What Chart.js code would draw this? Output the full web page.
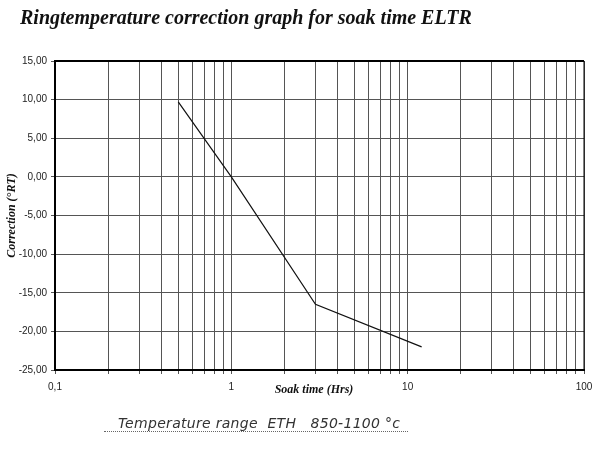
<!DOCTYPE html>
<html>
<head>
<meta charset="utf-8">
<script src="https://cdn.jsdelivr.net/npm/chart.js@4"></script>
<style>
  body { margin: 0; background: #fff; }
  #wrap { position: relative; width: 600px; height: 450px; }
  #note {
    position: absolute; left: 104px; top: 415px;
    font-family: "DejaVu Sans", sans-serif; font-style: italic;
    font-size: 14px; color: #333; letter-spacing: 0.3px;
    border-bottom: 1px dotted #666; padding: 0 8px 0 14px;
  }
</style>
</head>
<body>
<div id="wrap">
  <canvas id="myChart" width="600" height="450"></canvas>
  <div id="note">Temperature range &nbsp;ETH &nbsp; 850-1100 &deg;c</div>
</div>
<script>
// values
const soakHours = [0.5, 1, 3, 12];
const correction = [9.7, 0, -16.5, -22];
const xTickValues = [0.1, 0.2, 0.3, 0.4, 0.5, 0.6, 0.7, 0.8, 0.9,
  1, 2, 3, 4, 5, 6, 7, 8, 9,
  10, 20, 30, 40, 50, 60, 70, 80, 90, 100];
const xLabels = { 0.1: '0,1', 1: '1', 10: '10', 100: '100' };

const chartTitle = 'Ringtemperature correction graph for soak time ELTR';
const xTitle = 'Soak time (Hrs)';
const yTitle = 'Correction (\u00B0RT)';

const textPlugin = {
  id: 'texts',
  afterDraw(chart) {
    const ctx = chart.ctx;
    const area = chart.chartArea;
    ctx.save();
    ctx.fillStyle = '#111';
    ctx.font = 'italic bold 20px "Liberation Serif", serif';
    ctx.textBaseline = 'alphabetic';
    ctx.textAlign = 'left';
    ctx.fillText(chartTitle, 20, 24);

    ctx.font = 'italic bold 12px "Liberation Serif", serif';
    ctx.textAlign = 'center';
    ctx.fillText(xTitle, 314, area.bottom + 23);

    ctx.translate(12, (area.top + area.bottom) / 2);
    ctx.rotate(-Math.PI / 2);
    ctx.textBaseline = 'middle';
    ctx.fillText(yTitle, 0, 0);
    ctx.restore();
  }
};

const ctx = document.getElementById('myChart').getContext('2d');
new Chart(ctx, {
  type: 'line',
  data: {
    datasets: [{
      data: soakHours.map((h, i) => ({ x: h, y: correction[i] })),
      borderColor: '#111',
      borderWidth: 1.2,
      pointRadius: 0,
      tension: 0
    }]
  },
  options: {
    responsive: false,
    animation: false,
    layout: { padding: { top: 61, right: 16, left: 0, bottom: 0 } },
    plugins: { legend: { display: false }, tooltip: { enabled: false } },
    scales: {
      x: {
        type: 'logarithmic',
        min: 0.1,
        max: 100,
        afterBuildTicks(scale) {
          scale.ticks = xTickValues.map(v => ({ value: v }));
        },
        afterFit(scale) { scale.height = 80; },
        ticks: {
          autoSkip: false,
          maxRotation: 0,
          color: '#222',
          font: { family: 'Liberation Sans', size: 10 },
          padding: 7,
          callback: v => xLabels[v] || ''
        },
        grid: { color: '#555', lineWidth: 1, tickLength: 4 },
        border: { color: '#000', width: 2 }
      },
      y: {
        min: -25,
        max: 15,
        afterFit(scale) { scale.width = 55; },
        ticks: {
          stepSize: 5,
          color: '#222',
          font: { family: 'Liberation Sans', size: 10 },
          padding: 4,
          callback: v => v.toFixed(2).replace('.', ',')
        },
        grid: { color: '#555', lineWidth: 1, tickLength: 4 },
        border: { color: '#000', width: 2 }
      }
    }
  },
  plugins: [textPlugin, {
    id: 'frame',
    afterDraw(chart) {
      const c = chart.ctx, a = chart.chartArea;
      c.save();
      c.strokeStyle = '#000';
      c.lineWidth = 2;
      c.beginPath();
      c.moveTo(a.left, a.top); c.lineTo(a.right, a.top);
      c.stroke();
      c.lineWidth = 1;
      c.beginPath();
      c.moveTo(a.right, a.top); c.lineTo(a.right, a.bottom);
      c.stroke();
      c.restore();
    }
  }]
});
</script>
</body>
</html>
